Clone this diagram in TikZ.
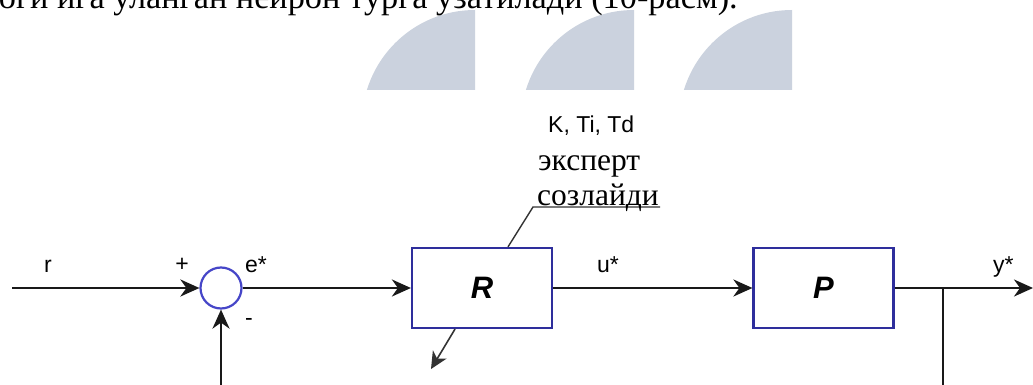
\documentclass[tikz,border=0pt]{standalone}
\usepackage{fontspec}
\setmainfont{Liberation Serif}
\newfontfamily\arialf{Liberation Sans}
\usetikzlibrary{arrows.meta}
\definecolor{shapegray}{HTML}{CBD2DE}
\definecolor{boxblue}{HTML}{2E2E9C}
\definecolor{sumblue}{HTML}{4646C8}
\tikzset{
  blk/.style={draw=boxblue, line width=2.2pt, minimum width=140pt, minimum height=80pt, inner sep=0pt,
    font=\arialf\bfseries\itshape\fontsize{31}{33}\selectfont},
  sumnode/.style={circle, draw=sumblue, line width=2.2pt, minimum size=41pt, inner sep=0pt},
  sig/.style={draw=black!90, line width=2.4pt, -{Stealth[length=19pt,width=17pt,inset=6pt]}},
  thinsig/.style={draw=black!80, line width=1.6pt, -{Stealth[length=17pt,width=16pt,inset=5pt]}},
  leader/.style={draw=black!80, line width=1.4pt},
  lbl/.style={font=\arialf\fontsize{23}{25}\selectfont, inner sep=0pt},
  serlbl/.style={font=\fontsize{31.5}{34}\selectfont, inner sep=0pt},
  topline/.style={font=\fontsize{34.3}{40}\selectfont, inner sep=0pt},
  deco/.style={fill=shapegray},
}
\begin{document}
\begin{tikzpicture}[x=1pt,y=-1pt]
\useasboundingbox (0,0) rectangle (1033,385);
\clip (0,0) rectangle (1033,385);
\fill[white] (0,0) rectangle (1033,385);
% decorative background shapes
\foreach \xr in {475,634,792}{
  \begin{scope}
    \clip (\xr-125,0) rectangle (\xr,90);
    \fill[deco] (\xr,123) circle[radius=113pt];
  \end{scope}
}
% cut-off text line at top
\node[topline, anchor=base east] (topt) at (738,9) {логи ига уланган нейрон тўрга узатилади (10-расм).};
% blocks
\node[sumnode] (sum) at (221,288) {};
\node[blk] (R) at (482,288) {R};
\node[blk] (P) at (823.5,288) {P};
\coordinate (in) at (12,288);
\coordinate (out) at (1033,288);
\coordinate (br) at (943,288);
\coordinate (fb) at (943,430);
\coordinate (lead1) at (533,207);
\coordinate (lead2) at (660,207);
\coordinate (tune) at (431,369);
% connectors
\draw[sig] (in) -- (sum);
\draw[sig] (sum) -- (R);
\draw[sig] (R) -- (P);
\draw[sig] (P) -- (out);
\draw[sig] (br) -- (fb) -| (sum);
\draw[leader] ([xshift=26pt]R.north) -- (lead1) -- (lead2);
\draw[thinsig] ([xshift=-27pt]R.south) -- (tune);
% labels
\node[lbl, anchor=base] (rl) at (48,272) {r};
\node[lbl] (plus) at (182,265) {+};
\node[lbl] (minus) at (249,322) {-};
\node[lbl, anchor=base west] (el) at (245,272) {e*};
\node[lbl, anchor=base west] (ul) at (597,272) {u*};
\node[lbl, anchor=base west] (yl) at (993,272) {y*};
\node[lbl, anchor=base west] (kl) at (548,132) {K, Ti, Td};
\node[serlbl, anchor=base west] (ex) at (538,170) {эксперт};
\node[serlbl, anchor=base west] (so) at (537,205) {созлайди};
\end{tikzpicture}
\end{document}
